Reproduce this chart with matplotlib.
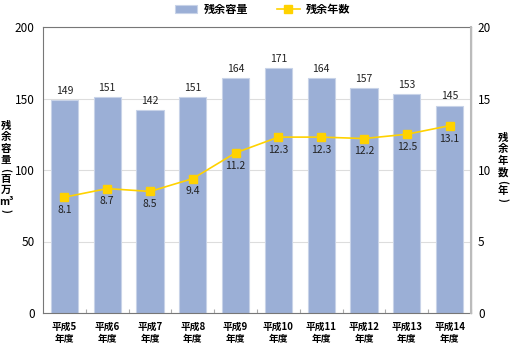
import matplotlib.pyplot as plt
import numpy as np

plt.rcParams['font.family'] = ['Noto Sans CJK JP', 'DejaVu Sans']

years = ['平成5\n年度', '平成6\n年度', '平成7\n年度', '平成8\n年度', '平成9\n年度',
         '平成10\n年度', '平成11\n年度', '平成12\n年度', '平成13\n年度', '平成14\n年度']
capacity = [149, 151, 142, 151, 164, 171, 164, 157, 153, 145]
remain_years = [8.1, 8.7, 8.5, 9.4, 11.2, 12.3, 12.3, 12.2, 12.5, 13.1]

bar_color = '#9bafd6'
line_color = '#ffd200'

fig = plt.figure(figsize=(5.13, 3.44), dpi=100)
ax = fig.add_axes([43 / 513, 31 / 344, 428 / 513, 286 / 344])
ax2 = ax.twinx()

x = np.arange(len(years))
bars = ax.bar(x, capacity, width=0.64, color=bar_color, edgecolor='#c8d3e8', linewidth=0.8,
              zorder=2, label='残余容量')
for xi, v in zip(x, capacity):
    ax.text(xi, v + 3, str(v), ha='center', va='bottom', fontsize=7.5, color='#222222')

ax.set_ylim(0, 200)
ax.set_xlim(-0.5, len(years) - 0.5)
ax.set_yticks([0, 50, 100, 150, 200])
ax.yaxis.grid(True, color='#dddddd', linewidth=0.8, zorder=0)
ax.set_axisbelow(True)
ax.set_xticks(x + 0.5, minor=False)
ax.set_xticklabels([])
ax.tick_params(axis='x', length=3, color='#aaaaaa', direction='in')
ax.set_xticks(x, minor=True)
ax.set_xticklabels(years, minor=True, fontsize=7, fontweight='bold', linespacing=1.3)
ax.tick_params(axis='x', which='minor', length=0, pad=6)
ax.tick_params(axis='y', length=0, labelsize=8.5, pad=6)

line, = ax2.plot(x, remain_years, color=line_color, marker='s', markersize=6,
                 linewidth=1.2, zorder=3, label='残余年数')
for xi, v in zip(x, remain_years):
    ax2.text(xi, v - 0.55, f'{v:.1f}', ha='center', va='top', fontsize=7.5, color='#222222')
ax2.set_ylim(0, 20)
ax2.set_yticks([0, 5, 10, 15, 20])
ax2.tick_params(axis='y', length=0, labelsize=8.5, pad=5)

for s in ['left', 'bottom', 'top']:
    ax.spines[s].set_color('#777777')
ax2.spines['right'].set_color('#bbbbbb')
ax2.spines['right'].set_linewidth(1.5)
for s in ['left', 'bottom', 'top']:
    ax2.spines[s].set_visible(False)


# stacked vertical text, one character per row (parentheses turned sideways)
def vertical_text(xpix, ytop, chars):
    y = ytop
    for ch in chars:
        paren = ch in '()'
        step = 7 if paren else 11.5
        y += step / 2
        fig.text(xpix / 513, 1 - y / 344, ch, ha='center', va='center', fontsize=7.5,
                 fontweight='bold', rotation=-90 if paren else 0)
        y += step / 2


vertical_text(6, 120, ['残', '余', '容', '量', '(', '百', '万', 'm³', ')'])
vertical_text(503, 132, ['残', '余', '年', '数', '(', '年', ')'])

fig.legend(handles=[bars, line], loc='center left',
           bbox_to_anchor=(165 / 513, 1 - 9 / 344), ncol=2,
           frameon=False, handlelength=2.0, columnspacing=2.6, handletextpad=0.6,
           prop={'weight': 'bold', 'size': 8})

fig.savefig('out.png', dpi=100)
